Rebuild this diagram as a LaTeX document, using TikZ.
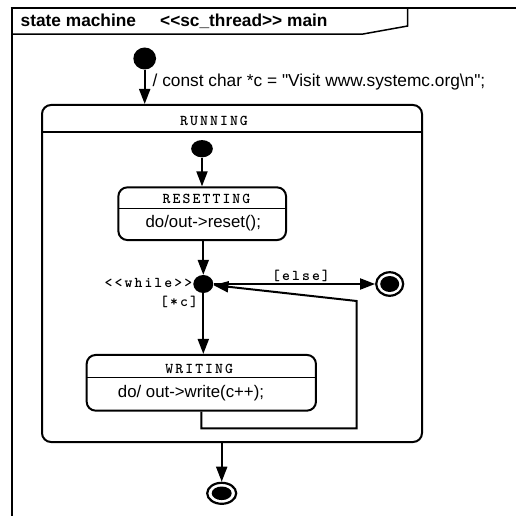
\documentclass[tikz,border=0pt]{standalone}
\usepackage{fontspec}
\usepackage{graphicx}
\usetikzlibrary{arrows.meta,shapes.geometric}
\newfontfamily\labsans{Liberation Sans}
\newfontfamily\labmono[LetterSpace=14]{lmmonolt10-bold.otf}
\tikzset{
  arr/.style={line width=2pt,-{Triangle[width=11pt,length=15pt]}},
  statebox/.style={draw,line width=2pt,rounded corners=9pt,rectangle,inner sep=0pt},
  dot/.style={ellipse,fill=black,draw=none,inner sep=0pt},
  finalring/.style={ellipse,draw,line width=2.2pt,fill=white,inner sep=0pt},
  sanstext/.style={font=\labsans\fontsize{16.8}{18}\selectfont,inner sep=0pt},
  boldtext/.style={font=\labsans\bfseries\fontsize{17.3}{19}\selectfont,inner sep=0pt},
  monotext/.style={font=\labmono\fontsize{15}{17}\selectfont,inner sep=0pt},
  sepline/.style={line width=1.5pt},
  framel/.style={line width=2.5pt},
}
\begin{document}
\begin{tikzpicture}[x=1pt,y=-1pt]
\useasboundingbox (0,0) rectangle (516,516);
% frame
\draw[framel] (10.5,8) -- (516,8);
\draw[line width=2pt] (11.7,8) -- (11.7,516);
\draw[sepline] (11.7,34.2) -- (362,34.2) -- (407.7,26) -- (407.7,8);
\node[boldtext,anchor=base west] (title) at (20.5,26.5)
  {\makebox[139.5pt][l]{state machine}<{}<sc\_thread>{}> main};
% states
\node[statebox,minimum width=380pt,minimum height=337pt] (run) at (232,273.5) {};
\draw[sepline] (42,132) -- (422,132);
\node[monotext] (runt) at (214,121) {RUNNING};

\node[statebox,minimum width=167.7pt,minimum height=52.7pt] (res) at (202.2,213.7) {};
\draw[sepline] (118.3,208.3) -- (286,208.3);
\node[monotext] (rest) at (206.5,199.3) {RESETTING};
\node[sanstext] (resb) at (203.3,223.3) {do/out->reset();};

\node[statebox,minimum width=229.3pt,minimum height=55.7pt] (wri) at (201.3,382.8) {};
\draw[sepline] (86.7,377.3) -- (316,377.3);
\node[monotext] (writ) at (199.2,369.3) {WRITING};
\node[sanstext] (wrib) at (191,392.7) {do/ out->write(c++);};

% pseudo states
\node[dot,minimum width=22.7pt,minimum height=22pt] (i0) at (144.7,58.5) {};
\node[dot,minimum width=21.7pt,minimum height=17.3pt] (i1) at (202,148.7) {};
\node[dot,minimum width=20pt,minimum height=18pt] (j) at (203.3,284) {};
\node[finalring,minimum width=27pt,minimum height=23.5pt] (f1) at (389.7,284) {};
\fill (f1.center) ellipse [x radius=9.5pt, y radius=8pt];
\node[finalring,minimum width=29pt,minimum height=21pt] (f2) at (221.7,493.3) {};
\fill (f2.center) ellipse [x radius=10pt, y radius=6.8pt];

% transitions
\draw[arr] (i0) -- (i0 |- run.north);
\node[sanstext,anchor=west,font=\labsans\fontsize{17.3}{19}\selectfont] (lab0) at (152.5,82) {/ const char *c = "Visit www.systemc.org\textbackslash n";};
\draw[arr] (i1) -- (i1 |- res.north);
\draw[arr] (res.south -| j) -- (j);
\node[monotext,anchor=east] (wl) at (192.5,283) {<{}<while>{}>};
\draw[arr] (j) -- (f1);
\node[monotext] (el) at (301,276) {[else]};
\draw[arr] (j) -- (j |- wri.north);
\node[monotext] (cl) at (179,301.7) {[*c]};
\coordinate (r1) at (201.3,428.3);
\coordinate (r2) at (356.7,428.3);
\coordinate (r3) at (356.7,301);
\draw[arr] (wri.south) -- (r1) -- (r2) -- (r3) -- (j);
\draw[arr] (run.south -| f2) -- (f2);
\end{tikzpicture}
\end{document}
